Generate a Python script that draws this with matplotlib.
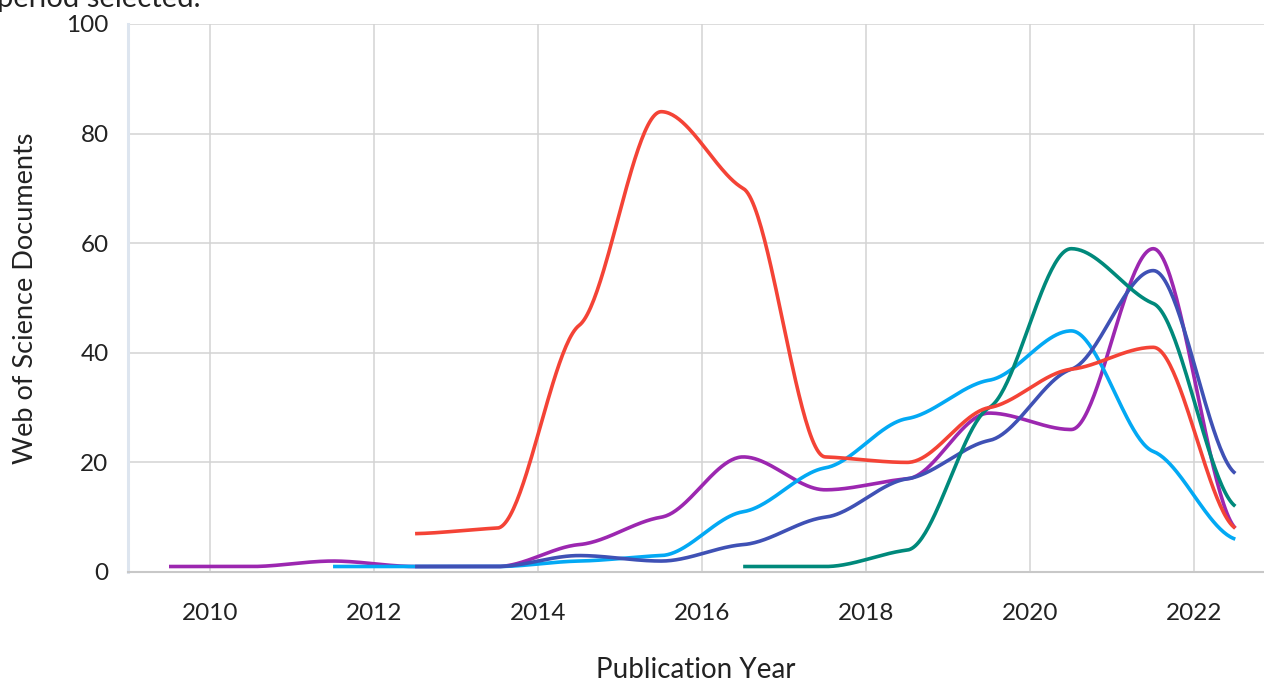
import numpy as np
import matplotlib
matplotlib.use("Agg")
import matplotlib.pyplot as plt

# ---- data (publication year, documents) ----
years_red = [2012.5, 2013.5, 2014.5, 2015.5, 2016.5, 2017.5, 2018.5, 2019.5, 2020.5, 2021.5, 2022.5]
vals_red = [7, 8, 45, 84, 70, 21, 20, 30, 37, 41, 8]

years_purple = [2009.5, 2010.5, 2011.5, 2012.5, 2013.5, 2014.5, 2015.5, 2016.5, 2017.5, 2018.5, 2019.5, 2020.5, 2021.5, 2022.5]
vals_purple = [1, 1, 2, 1, 1, 5, 10, 21, 15, 17, 29, 26, 59, 8]

years_lightblue = [2011.5, 2012.5, 2013.5, 2014.5, 2015.5, 2016.5, 2017.5, 2018.5, 2019.5, 2020.5, 2021.5, 2022.5]
vals_lightblue = [1, 1, 1, 2, 3, 11, 19, 28, 35, 44, 22, 6]

years_indigo = [2012.5, 2013.5, 2014.5, 2015.5, 2016.5, 2017.5, 2018.5, 2019.5, 2020.5, 2021.5, 2022.5]
vals_indigo = [1, 1, 3, 2, 5, 10, 17, 24, 37, 55, 18]

years_teal = [2016.5, 2017.5, 2018.5, 2019.5, 2020.5, 2021.5, 2022.5]
vals_teal = [1, 1, 4, 30, 59, 49, 12]

year_ticks = [2010, 2012, 2014, 2016, 2018, 2020, 2022]
y_ticks = [0, 20, 40, 60, 80, 100]


def smooth_curve(x, y, k=0.3, n=50):
    """Cubic Hermite through the points, with damped monotone tangents."""
    x = np.asarray(x, float)
    y = np.asarray(y, float)
    m = len(x)
    h = np.diff(x)
    s = np.diff(y) / h
    t = np.zeros(m)
    for i in range(1, m - 1):
        h0, h1 = h[i - 1], h[i]
        s0, s1 = s[i - 1], s[i]
        p = (s0 * h1 + s1 * h0) / (h0 + h1)
        t[i] = (np.sign(s0) + np.sign(s1)) * min(abs(s0), abs(s1), 0.5 * abs(p))
    t *= k
    t[0] = k * s[0]
    t[-1] = k * s[-1]
    xs, ys = [], []
    for i in range(m - 1):
        u = np.linspace(0, 1, n, endpoint=(i == m - 2))
        hh = h[i]
        h00 = 2 * u**3 - 3 * u**2 + 1
        h10 = u**3 - 2 * u**2 + u
        h01 = -2 * u**3 + 3 * u**2
        h11 = u**3 - u**2
        xs.append(x[i] + u * hh)
        ys.append(h00 * y[i] + h10 * hh * t[i] + h01 * y[i + 1] + h11 * hh * t[i + 1])
    return np.concatenate(xs), np.concatenate(ys)


plt.rcParams['font.family'] = ['Lato', 'DejaVu Sans']

W, H = 1264, 681
fig = plt.figure(figsize=(W / 100, H / 100), dpi=100)
ax = fig.add_axes([128 / W, 1 - 572 / H, (W - 128) / W, (572 - 24) / H])

series = [
    (years_purple, vals_purple, '#9c27b0'),
    (years_lightblue, vals_lightblue, '#03a9f4'),
    (years_indigo, vals_indigo, '#3f51b5'),
    (years_teal, vals_teal, '#00897b'),
    (years_red, vals_red, '#f44336'),
]
for xs, ys, c in series:
    sx, sy = smooth_curve(xs, ys)
    ax.plot(sx, sy, color=c, lw=2.6, solid_capstyle='butt', zorder=3, clip_on=False)

ax.set_xlim(2009.0, 2022.85)
ax.set_ylim(0, 100)
ax.set_xticks(year_ticks)
ax.set_xticklabels([str(v) for v in year_ticks])
ax.set_yticks(y_ticks)
ax.set_yticklabels([str(v) for v in y_ticks])
ax.tick_params(axis='both', length=0, labelsize=17.5, labelcolor='#222222')
ax.tick_params(axis='y', pad=14)
ax.tick_params(axis='x', pad=22)
ax.grid(True, color='#d3d3d3', lw=1.1, zorder=0)
ax.set_axisbelow(True)
for side in ['top', 'right']:
    ax.spines[side].set_visible(False)
ax.spines['left'].set_color('#dde5ef')
ax.spines['left'].set_linewidth(2.2)
ax.spines['bottom'].set_color('#c8c8c8')
ax.spines['bottom'].set_linewidth(1.5)

ax.set_xlabel('Publication Year', fontsize=20, color='#222222', labelpad=24)
ax.set_ylabel('Web of Science Documents', fontsize=19.5, color='#222222', labelpad=20)

fig.text(-3 / W, 1 - 7 / H, 'period selected.', fontsize=21, color='#222222',
         ha='left', va='baseline')

fig.savefig('out.png', dpi=100)
